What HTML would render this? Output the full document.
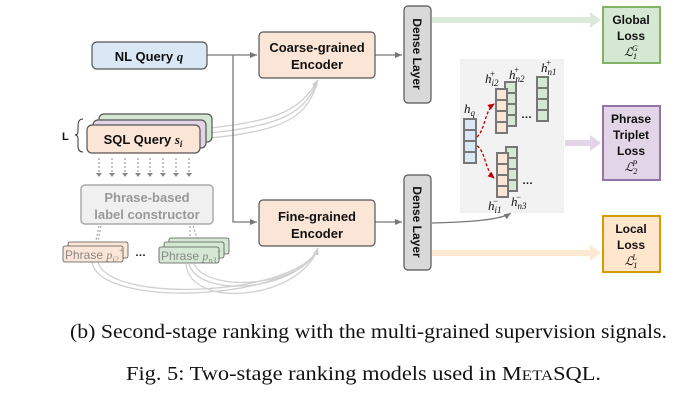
<!DOCTYPE html>
<html><head><meta charset="utf-8"><style>
html,body{margin:0;padding:0;background:#fff;width:690px;height:405px;overflow:hidden}
svg{display:block}
.b{font-family:"Liberation Sans",sans-serif;font-weight:bold;fill:#111}
.m{font-family:"Liberation Serif",serif;font-style:italic}
.cap{font-family:"Liberation Serif",serif;font-size:20px;fill:#111}
</style></head><body>
<svg width="690" height="405" viewBox="0 0 690 405" xmlns="http://www.w3.org/2000/svg">
<defs>
<marker id="ag" markerWidth="8" markerHeight="8" refX="7" refY="4" orient="auto" markerUnits="userSpaceOnUse"><path d="M0,1 L7,4 L0,7z" fill="#777"/></marker>
<marker id="al" markerWidth="8" markerHeight="8" refX="7" refY="4" orient="auto" markerUnits="userSpaceOnUse"><path d="M0,1 L7,4 L0,7z" fill="#ccc"/></marker>
<marker id="ar" markerWidth="8" markerHeight="8" refX="6" refY="4" orient="auto" markerUnits="userSpaceOnUse"><path d="M0,1 L7,4 L0,7z" fill="#c00000"/></marker>
</defs>
<g fill="none" stroke="#d0d0d0" stroke-width="1.3">
<path d="M210,128 C280,120 300,110 318,80" marker-end="url(#al)"/>
<path d="M210,133 C285,125 305,112 318,80"/>
<path d="M210,138 C290,130 308,115 318,80"/>
<path d="M92,262 C100,310 300,300 318,248" marker-end="url(#al)"/>
<path d="M98,262 C110,305 300,295 318,248"/>
<path d="M189,264 C200,300 300,290 318,248"/>
<path d="M194,264 C210,295 305,285 318,248"/>
<path d="M186,264 C190,310 300,300 318,248"/>
</g>
<g fill="none" stroke="#777" stroke-width="1.3">
<path d="M207,55 L257,55" marker-end="url(#ag)"/>
<path d="M233,55 L233,222 L257,222" marker-end="url(#ag)"/>
<path d="M375,55 L402,55" marker-end="url(#ag)"/>
<path d="M375,222 L402,222" marker-end="url(#ag)"/>
<path d="M432,223 C470,222 500,220 511,213" marker-end="url(#ag)"/>
</g>
<path d="M432,17 L590,17 L590,12 L601,20 L590,28 L590,23 L432,23z" fill="#d5e8d4" opacity="0.85"/>
<path d="M432,250 L590,250 L590,245 L601,253 L590,261 L590,256 L432,256z" fill="#ffe6cc" opacity="0.9"/>
<path d="M565,140 L590,140 L590,135 L601,143 L590,151 L590,146 L565,146z" fill="#e1d5e7"/>
<rect x="92" y="42" width="115" height="27" rx="5" fill="#dae8f5" stroke="#555" stroke-width="1.2"/>
<text x="149" y="61" text-anchor="middle" class="b" font-size="13">NL Query <tspan class="m">q</tspan></text>
<rect x="259" y="32" width="116" height="46" rx="4" fill="#fbe5d6" stroke="#555" stroke-width="1.2"/>
<text x="317" y="52" text-anchor="middle" class="b" font-size="13">Coarse-grained</text>
<text x="317" y="69" text-anchor="middle" class="b" font-size="13">Encoder</text>
<rect x="259" y="200" width="116" height="46" rx="4" fill="#fbe5d6" stroke="#555" stroke-width="1.2"/>
<text x="317" y="221" text-anchor="middle" class="b" font-size="13">Fine-grained</text>
<text x="317" y="238" text-anchor="middle" class="b" font-size="13">Encoder</text>
<rect x="404" y="6" width="27" height="97" rx="4" fill="#d9d9d9" stroke="#555" stroke-width="1.2"/>
<text transform="translate(413,54) rotate(90)" text-anchor="middle" class="b" font-size="12">Dense Layer</text>
<rect x="404" y="175" width="27" height="95" rx="4" fill="#d9d9d9" stroke="#555" stroke-width="1.2"/>
<text transform="translate(413,222) rotate(90)" text-anchor="middle" class="b" font-size="12">Dense Layer</text>
<rect x="99" y="114" width="113" height="28" rx="5" fill="#d5e8d4" stroke="#555" stroke-width="1.2"/>
<rect x="93" y="120" width="113" height="28" rx="5" fill="#e1d5e7" stroke="#555" stroke-width="1.2"/>
<rect x="87" y="125" width="113" height="28" rx="5" fill="#fbe5d6" stroke="#555" stroke-width="1.2"/>
<text x="143" y="144" text-anchor="middle" class="b" font-size="13">SQL Query <tspan class="m">s<tspan font-size="9" dy="3">i</tspan></tspan></text>
<text x="62" y="140" class="b" font-size="11">L</text>
<path d="M83,119 Q78,119 78,126 L78,131 Q78,135 75,135 Q78,135 78,139 L78,146 Q78,152 83,152" fill="none" stroke="#333" stroke-width="1"/>
<g stroke="#888" stroke-width="1" stroke-dasharray="2,2">
<line x1="99" y1="158" x2="99" y2="174"/><line x1="112" y1="158" x2="112" y2="174"/><line x1="125" y1="158" x2="125" y2="174"/><line x1="138" y1="158" x2="138" y2="174"/><line x1="150" y1="158" x2="150" y2="174"/><line x1="163" y1="158" x2="163" y2="174"/><line x1="176" y1="158" x2="176" y2="174"/><line x1="189" y1="158" x2="189" y2="174"/>
</g>
<g fill="#888"><path d="M96,173 L102,173 L99,177z"/><path d="M109,173 L115,173 L112,177z"/><path d="M122,173 L128,173 L125,177z"/><path d="M135,173 L141,173 L138,177z"/><path d="M147,173 L153,173 L150,177z"/><path d="M160,173 L166,173 L163,177z"/><path d="M173,173 L179,173 L176,177z"/><path d="M186,173 L192,173 L189,177z"/></g>
<rect x="81" y="185" width="132" height="39" rx="4" fill="#f0f0f0" stroke="#aaa" stroke-width="1.5"/>
<text x="147" y="202" text-anchor="middle" class="b" font-size="13" style="fill:#999">Phrase-based</text>
<text x="147" y="219" text-anchor="middle" class="b" font-size="13" style="fill:#999">label constructor</text>
<g stroke="#999" stroke-width="1" stroke-dasharray="2,2" fill="none"><path d="M99,226 L95,245"/><path d="M101,226 L97,245"/><path d="M190,226 L190,243"/><path d="M193,226 L198,241"/></g>
<rect x="68" y="242" width="60" height="16" rx="2" fill="#fbe5d6" stroke="#555" stroke-width="0.8"/>
<rect x="63" y="246" width="60" height="16" rx="2" fill="#fbe5d6" stroke="#555" stroke-width="0.8"/>
<text x="65" y="259" font-family="Liberation Sans,sans-serif" font-size="12" fill="#888">Phrase <tspan class="m" fill="#888">p<tspan font-size="8" dy="3">i2</tspan><tspan font-size="8" dy="-9">+</tspan></tspan></text>
<text x="135" y="256" class="b" font-size="11">…</text>
<rect x="169" y="238" width="60" height="16" rx="2" fill="#d5e8d4" stroke="#555" stroke-width="0.8"/>
<rect x="164" y="242" width="60" height="16" rx="2" fill="#d5e8d4" stroke="#555" stroke-width="0.8"/>
<rect x="159" y="247" width="60" height="16" rx="2" fill="#d5e8d4" stroke="#555" stroke-width="0.8"/>
<text x="161" y="260" font-family="Liberation Sans,sans-serif" font-size="12" fill="#888">Phrase <tspan class="m" fill="#888">p<tspan font-size="8" dy="3">n3</tspan><tspan font-size="8" dy="-9">−</tspan></tspan></text>
<rect x="460" y="59" width="104" height="154" fill="#f2f2f2"/>
<g stroke="#777" stroke-width="2">
<g fill="#dae8f5"><rect x="464" y="119" width="12" height="11"/><rect x="464" y="130" width="12" height="11"/><rect x="464" y="141" width="12" height="11"/><rect x="464" y="152" width="12" height="11"/></g>
<g fill="#d5e8d4"><rect x="505" y="82" width="11" height="11"/><rect x="505" y="93" width="11" height="11"/><rect x="505" y="104" width="11" height="11"/><rect x="505" y="115" width="11" height="11"/>
<rect x="537" y="77" width="11" height="11"/><rect x="537" y="88" width="11" height="11"/><rect x="537" y="99" width="11" height="11"/><rect x="537" y="110" width="11" height="11"/>
<rect x="506" y="147" width="11" height="11"/><rect x="506" y="158" width="11" height="11"/><rect x="506" y="169" width="11" height="11"/><rect x="506" y="180" width="11" height="11"/></g>
<g fill="#fbe5d6"><rect x="496" y="89" width="11" height="11"/><rect x="496" y="100" width="11" height="11"/><rect x="496" y="111" width="11" height="11"/><rect x="496" y="122" width="11" height="11"/>
<rect x="497" y="153" width="11" height="11"/><rect x="497" y="164" width="11" height="11"/><rect x="497" y="175" width="11" height="11"/><rect x="497" y="186" width="11" height="11"/></g>
</g>
<g fill="none" stroke="#c00000" stroke-width="1.3" stroke-dasharray="3,2">
<path d="M477,137 C485,130 485,110 494,104" marker-end="url(#ar)"/>
<path d="M477,146 C485,150 485,170 494,178" marker-end="url(#ar)"/>
</g>
<g class="m" font-size="13" fill="#111">
<text x="464" y="113">h<tspan font-size="9" dy="3">q</tspan></text>
<text x="485" y="83">h<tspan font-size="9" dy="3">i2</tspan><tspan font-size="9" dx="-9" dy="-9">+</tspan></text>
<text x="509" y="79">h<tspan font-size="9" dy="3">n2</tspan><tspan font-size="9" dx="-11" dy="-9">+</tspan></text>
<text x="541" y="72">h<tspan font-size="9" dy="3">n1</tspan><tspan font-size="9" dx="-11" dy="-9">+</tspan></text>
<text x="488" y="210">h<tspan font-size="9" dy="3">i1</tspan><tspan font-size="9" dx="-9" dy="-9">−</tspan></text>
<text x="511" y="206">h<tspan font-size="9" dy="3">n3</tspan><tspan font-size="9" dx="-11" dy="-9">−</tspan></text>
</g>
<text x="521" y="118" class="b" font-size="11">…</text>
<text x="522" y="184" class="b" font-size="11">…</text>
<rect x="603" y="7" width="57" height="56" fill="#d5e8d4" stroke="#82b366" stroke-width="2"/>
<text x="631" y="24" text-anchor="middle" class="b" font-size="12">Global</text>
<text x="631" y="40" text-anchor="middle" class="b" font-size="12">Loss</text>
<text x="631" y="56" text-anchor="middle" class="m" font-size="12">ℒ<tspan font-size="8" dy="3">1</tspan><tspan font-size="8" dx="-5" dy="-8">G</tspan></text>
<rect x="603" y="106" width="57" height="74" fill="#e1d5e7" stroke="#9673a6" stroke-width="2"/>
<text x="631" y="123" text-anchor="middle" class="b" font-size="12">Phrase</text>
<text x="631" y="139" text-anchor="middle" class="b" font-size="12">Triplet</text>
<text x="631" y="155" text-anchor="middle" class="b" font-size="12">Loss</text>
<text x="631" y="171" text-anchor="middle" class="m" font-size="12">ℒ<tspan font-size="8" dy="3">2</tspan><tspan font-size="8" dx="-5" dy="-8">P</tspan></text>
<rect x="603" y="216" width="57" height="56" fill="#ffe6cc" stroke="#d79b00" stroke-width="2"/>
<text x="631" y="233" text-anchor="middle" class="b" font-size="12">Local</text>
<text x="631" y="249" text-anchor="middle" class="b" font-size="12">Loss</text>
<text x="631" y="265" text-anchor="middle" class="m" font-size="12">ℒ<tspan font-size="8" dy="3">1</tspan><tspan font-size="8" dx="-5" dy="-8">L</tspan></text>
<text x="70" y="338" class="cap" textLength="597" lengthAdjust="spacingAndGlyphs">(b) Second-stage ranking with the multi-grained supervision signals.</text>
<text x="126" y="380" class="cap" textLength="475" lengthAdjust="spacingAndGlyphs">Fig. 5: Two-stage ranking models used in M<tspan font-size="15">ETA</tspan>SQL.</text>
</svg>
</body></html>
